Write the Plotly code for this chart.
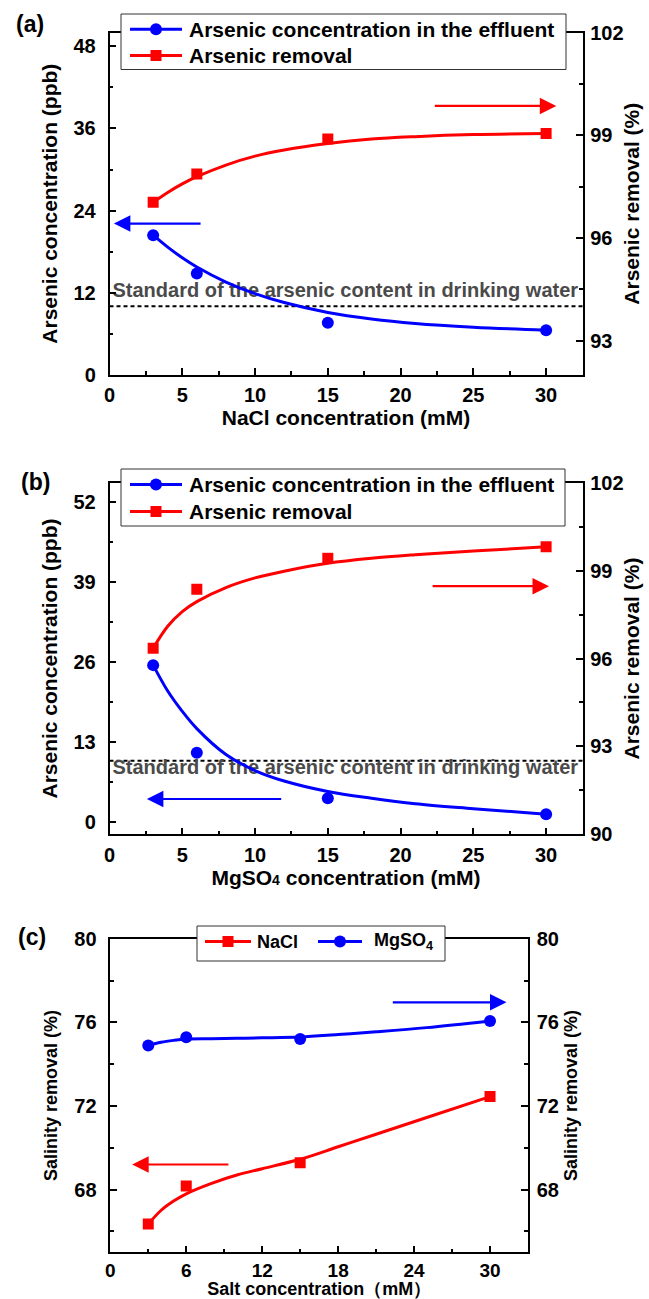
import plotly.graph_objects as go

W, H = 649, 1299

# ---- measured values ----
conc = [3, 6, 15, 30]                              # salt concentration (mM)
nacl_effluent = [20.4, 14.8, 7.6, 6.5]             # ppb
nacl_removal = [97.04, 97.87, 98.89, 99.05]        # %
mgso4_effluent = [25.5, 11.3, 3.9, 1.3]            # ppb
mgso4_removal = [96.35, 98.36, 99.42, 99.81]       # %
salinity_nacl = [66.35, 68.17, 69.29, 72.45]       # %
salinity_mgso4 = [74.89, 75.29, 75.21, 76.07]      # %

# ---- fitted trend curves ----
fit_x = [3, 4, 5, 6, 8, 10, 12, 15, 18, 21, 25, 30]
nacl_effluent_fit = [20.4, 18.65, 17.1, 15.75, 13.55, 11.85, 10.55, 9.1, 8.15, 7.5, 6.95, 6.5]
nacl_removal_fit = [97.04, 97.33, 97.58, 97.79, 98.13, 98.39, 98.57, 98.76, 98.89, 98.96, 99.02, 99.05]
mgso4_effluent_fit = [25.5, 21.3, 18.0, 15.2, 11.0, 8.4, 6.7, 5.0, 3.9, 3.0, 2.2, 1.3]
mgso4_removal_fit = [96.35, 97.1, 97.6, 97.94, 98.42, 98.75, 98.98, 99.25, 99.42, 99.54, 99.67, 99.81]
salinity_nacl_fit = [66.35, 67.0, 67.45, 67.8, 68.3, 68.7, 69.0, 69.45, 70.05, 70.65, 71.45, 72.45]
salinity_mgso4_fit = [74.9, 75.05, 75.14, 75.2, 75.22, 75.24, 75.26, 75.3, 75.42, 75.55, 75.75, 76.07]

drinking_standard = 10  # ppb
standard_label = "Standard of the arsenic content in drinking water"
names_ab = ["Arsenic concentration in the effluent", "Arsenic removal"]
names_c = ["NaCl", "MgSO<sub>4</sub>"]

BLUE = "#0000FF"
RED = "#FF0000"
FONT = "Liberation Sans, Arial, sans-serif"


def px_x(p):
    return p / W


def px_y(p):
    return 1 - p / H


# plot frames in pixels: (left, right, top, bottom)
frame_a = (109.5, 582.5, 32.7, 374.7)
frame_b = (109.5, 582.5, 482.7, 834.3)
frame_c = (110.3, 528.0, 938.8, 1252.3)


def dom(frame):
    l, r, t, b = frame
    return [px_x(l), px_x(r)], [px_y(b), px_y(t)]


def tickfont(size=20):
    return dict(family=FONT, size=size, color="black", weight="bold")


def axis_style(**kw):
    base = dict(
        showline=True, linecolor="black", linewidth=1.5,
        ticks="inside", ticklen=7, tickwidth=1.5, tickcolor="black",
        showgrid=False, zeroline=False, tickfont=tickfont(),
        automargin=False,
    )
    base.update(kw)
    return base


def title(text, size=21, standoff=6):
    return dict(text=text, font=dict(family=FONT, size=size, color="black", weight="bold"),
                standoff=standoff)


def minor(dtick):
    return dict(dtick=dtick, ticks="inside", ticklen=4, tickwidth=1.5, tickcolor="black")


fig = go.Figure()

# standard label text sits beneath the curves
for xr, yr, yv in (("x", "y", 12.1), ("x2", "y3", 8.6)):
    fig.add_trace(go.Scatter(x=[16.2], y=[yv], mode="text", text=[standard_label],
                             textfont=dict(family=FONT, size=20, color="#4a4a4a", weight="bold"),
                             xaxis=xr, yaxis=yr, showlegend=False, hoverinfo="skip"))


def add_pair(xid, yl, yr, eff, eff_fit, rem, rem_fit, names):
    fig.add_trace(go.Scatter(x=fit_x, y=eff_fit, mode="lines", line=dict(color=BLUE, width=3, shape="spline"),
                             xaxis=xid, yaxis=yl, showlegend=False, name=names[0]))
    fig.add_trace(go.Scatter(x=fit_x, y=rem_fit, mode="lines", line=dict(color=RED, width=3, shape="spline"),
                             xaxis=xid, yaxis=yr, showlegend=False, name=names[1]))
    fig.add_trace(go.Scatter(x=conc, y=eff, mode="markers", marker=dict(color=BLUE, size=12, symbol="circle"),
                             xaxis=xid, yaxis=yl, showlegend=False, name=names[0]))
    fig.add_trace(go.Scatter(x=conc, y=rem, mode="markers", marker=dict(color=RED, size=11, symbol="square"),
                             xaxis=xid, yaxis=yr, showlegend=False, name=names[1]))


add_pair("x", "y", "y2", nacl_effluent, nacl_effluent_fit, nacl_removal, nacl_removal_fit, names_ab)
add_pair("x2", "y3", "y4", mgso4_effluent, mgso4_effluent_fit, mgso4_removal, mgso4_removal_fit, names_ab)

# panel (c): salinity removal
fig.add_trace(go.Scatter(x=fit_x, y=salinity_nacl_fit, mode="lines", line=dict(color=RED, width=3, shape="spline"),
                         xaxis="x3", yaxis="y5", showlegend=False, name=names_c[0]))
fig.add_trace(go.Scatter(x=fit_x, y=salinity_mgso4_fit, mode="lines", line=dict(color=BLUE, width=3, shape="spline"),
                         xaxis="x3", yaxis="y6", showlegend=False, name=names_c[1]))
fig.add_trace(go.Scatter(x=conc, y=salinity_nacl, mode="markers", marker=dict(color=RED, size=11, symbol="square"),
                         xaxis="x3", yaxis="y5", showlegend=False, name=names_c[0]))
fig.add_trace(go.Scatter(x=conc, y=salinity_mgso4, mode="markers", marker=dict(color=BLUE, size=12, symbol="circle"),
                         xaxis="x3", yaxis="y6", showlegend=False, name=names_c[1]))

xa, ya = dom(frame_a)
xb, yb = dom(frame_b)
xc, yc = dom(frame_c)

fig.update_layout(
    width=W, height=H, autosize=False,
    margin=dict(l=0, r=0, t=0, b=0),
    paper_bgcolor="white", plot_bgcolor="white",
    font=dict(family=FONT, color="black"),
    showlegend=False,
    # panel (a)
    xaxis=axis_style(domain=xa, anchor="y", range=[0, 32.5], dtick=5, tick0=0, minor=minor(2.5), mirror=True,
                     ticklabelstandoff=2, title=title("NaCl concentration (mM)", standoff=3)),
    yaxis=axis_style(domain=ya, anchor="x", range=[0, 50], dtick=12, tick0=0, minor=minor(6),
                     ticklabelstandoff=8, title=title("Arsenic concentration (ppb)", standoff=10)),
    yaxis2=axis_style(domain=ya, anchor="x", overlaying="y", side="right", range=[92, 102], dtick=3, tick0=0,
                      minor=minor(1.5), ticklabelstandoff=2, title=title("Arsenic removal (%)", standoff=2)),
    # panel (b)
    xaxis2=axis_style(domain=xb, anchor="y3", range=[0, 32.5], dtick=5, tick0=0, minor=minor(2.5), mirror=True,
                      ticklabelstandoff=2,
                      title=title("MgSO<span style='font-size:14px'>4</span> concentration (mM)", standoff=3)),
    yaxis3=axis_style(domain=yb, anchor="x2", range=[-1.95, 55.1], dtick=13, tick0=0, minor=minor(6.5),
                      ticklabelstandoff=8, title=title("Arsenic concentration (ppb)", standoff=10)),
    yaxis4=axis_style(domain=yb, anchor="x2", overlaying="y3", side="right", range=[90, 102], dtick=3, tick0=0,
                      minor=minor(1.5), ticklabelstandoff=2, title=title("Arsenic removal (%)", standoff=2)),
    # panel (c)
    xaxis3=axis_style(domain=xc, anchor="y5", range=[0, 33], dtick=6, tick0=0, minor=minor(3), mirror=True,
                      tickfont=tickfont(19), ticklabelstandoff=0,
                      title=title("Salt concentration（mM）", size=18, standoff=1)),
    yaxis5=axis_style(domain=yc, anchor="x3", range=[65, 80], dtick=4, tick0=0, minor=minor(2),
                      ticklabelstandoff=8, title=title("Salinity removal (%)", size=18, standoff=12)),
    yaxis6=axis_style(domain=yc, anchor="x3", overlaying="y5", side="right", range=[65, 80], dtick=4, tick0=0,
                      minor=minor(2), ticklabelstandoff=3, title=title("Salinity removal (%)", size=18, standoff=6)),
)

# drinking water standard (dashed)
for xr, yr in (("x", "y"), ("x2", "y3")):
    fig.add_shape(type="line", xref=xr + " domain", yref=yr, x0=0, x1=1,
                  y0=drinking_standard, y1=drinking_standard,
                  line=dict(color="black", width=2, dash="4px,3px"), layer="below")

# arrows pointing at the relevant axis
arrows = [
    # (xref, yref, tail_x, head_x, y, color)
    ("x", "y", 6.36, 0.3, 22.1, BLUE),
    ("x", "y2", 22.25, 30.7, 99.86, RED),
    ("x2", "y4", 22.1, 30.2, 98.47, RED),
    ("x2", "y3", 11.9, 2.57, 3.78, BLUE),
    ("x3", "y6", 22.2, 31.3, 76.96, BLUE),
    ("x3", "y5", 9.45, 1.73, 69.2, RED),
]
for xr, yr, tx, hx, yv, col in arrows:
    fig.add_annotation(x=hx, y=yv, ax=tx, ay=yv, xref=xr, yref=yr, axref=xr, ayref=yr,
                       text="", showarrow=True, arrowhead=2, arrowsize=1.5, arrowwidth=2.2,
                       arrowcolor=col)


# ---- legend boxes (drawn above the axis frame) ----
def legend_box(l, r, t, b):
    fig.add_shape(type="rect", xref="paper", yref="paper", x0=px_x(l), x1=px_x(r), y0=px_y(b), y1=px_y(t),
                  fillcolor="white", line=dict(color="#333333", width=1), layer="above")


def legend_item(name, color, symbol, row_y, line_x0, line_x1, text_x, size):
    fig.add_shape(type="line", xref="paper", yref="paper", x0=px_x(line_x0), x1=px_x(line_x1),
                  y0=px_y(row_y), y1=px_y(row_y), line=dict(color=color, width=3), layer="above")
    mx = (line_x0 + line_x1) / 2
    half = 6 if symbol == "circle" else 5.5
    fig.add_shape(type="circle" if symbol == "circle" else "rect", xref="paper", yref="paper",
                  xsizemode="pixel", ysizemode="pixel", xanchor=px_x(mx), yanchor=px_y(row_y),
                  x0=-half, x1=half, y0=-half, y1=half, fillcolor=color, line=dict(width=0), layer="above")
    fig.add_annotation(x=px_x(text_x), y=px_y(row_y), xref="paper", yref="paper", text=name,
                       showarrow=False, xanchor="left", yanchor="middle",
                       font=dict(family=FONT, size=size, color="black", weight="bold"))


legend_box(121, 566, 14, 69.5)
legend_item(names_ab[0], BLUE, "circle", 29.3, 130, 182, 187, 21)
legend_item(names_ab[1], RED, "square", 55.5, 130, 182, 187, 21)

legend_box(121, 565, 469, 526)
legend_item(names_ab[0], BLUE, "circle", 484.5, 130, 182, 187, 21)
legend_item(names_ab[1], RED, "square", 511.5, 130, 182, 187, 21)

legend_box(197, 445, 926, 961)
legend_item(names_c[0], RED, "square", 941.5, 205, 251, 255, 18)
legend_item(names_c[1], BLUE, "circle", 941.5, 318, 362, 372, 18)

# panel letters
for label, px, py in (("(a)", 30, 24), ("(b)", 35, 482), ("(c)", 32, 937)):
    fig.add_annotation(x=px_x(px), y=px_y(py), xref="paper", yref="paper", text=label, showarrow=False,
                       font=dict(family=FONT, size=23, color="black", weight="bold"),
                       xanchor="center", yanchor="middle")

fig.write_html("out.html")
